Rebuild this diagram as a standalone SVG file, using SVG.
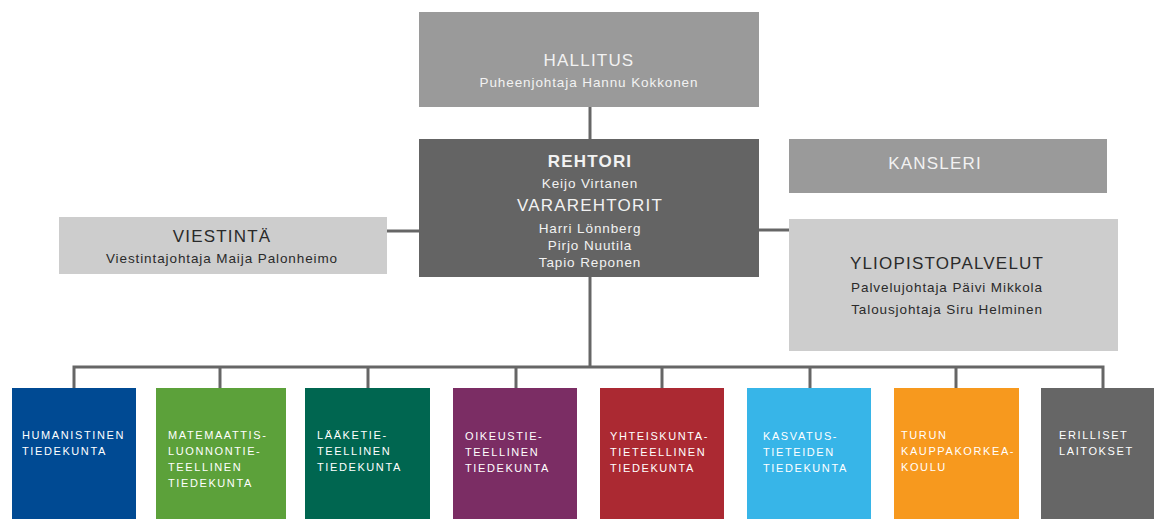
<svg xmlns="http://www.w3.org/2000/svg" width="1154" height="519" viewBox="0 0 1154 519">
<style>
text{font-family:"Liberation Sans",Arial,sans-serif}
.t{font-size:17px;letter-spacing:1.2px;text-anchor:middle}
.s{font-size:13.5px;letter-spacing:0.9px;text-anchor:middle}
.f{font-size:11px;letter-spacing:1.6px;fill:#fff}
.lt{fill:#f2f2f2}
.dk{fill:#2a2a2a}
.ln{stroke:#666;stroke-width:3;fill:none}
</style>
<rect width="1154" height="519" fill="#fff"/>
<g id="connectors">
<line class="ln" x1="590" y1="107" x2="590" y2="139"/>
<line class="ln" x1="590" y1="277" x2="590" y2="367"/>
<line class="ln" x1="387" y1="231" x2="419" y2="231"/>
<line class="ln" x1="759" y1="230" x2="789" y2="230"/>
<polyline class="ln" points="74,388 74,367 1103,367 1103,388"/>
<line class="ln" x1="220" y1="367" x2="220" y2="388"/>
<line class="ln" x1="368" y1="367" x2="368" y2="388"/>
<line class="ln" x1="516" y1="367" x2="516" y2="388"/>
<line class="ln" x1="662" y1="367" x2="662" y2="388"/>
<line class="ln" x1="810" y1="367" x2="810" y2="388"/>
<line class="ln" x1="956" y1="367" x2="956" y2="388"/>
</g>
<g id="hallitus">
<rect x="419" y="12" width="340" height="95" fill="#9a9a9a"/>
<text class="t lt" x="589" y="66">HALLITUS</text>
<text class="s lt" x="589" y="87">Puheenjohtaja Hannu Kokkonen</text>
</g>
<g id="rehtori">
<rect x="419" y="139" width="340" height="138" fill="#646464"/>
<text class="t lt" x="590" y="167" font-weight="bold">REHTORI</text>
<text class="s lt" x="590" y="188">Keijo Virtanen</text>
<text class="t lt" x="590" y="211">VARAREHTORIT</text>
<text class="s lt" x="590" y="233">Harri Lönnberg</text>
<text class="s lt" x="590" y="250">Pirjo Nuutila</text>
<text class="s lt" x="590" y="267">Tapio Reponen</text>
</g>
<g id="kansleri">
<rect x="789" y="139" width="318" height="54" fill="#9a9a9a"/>
<text class="t lt" x="935" y="169">KANSLERI</text>
</g>
<g id="viestinta">
<rect x="59" y="217" width="328" height="57" fill="#cdcdcd"/>
<text class="t dk" x="222" y="242">VIESTINTÄ</text>
<text class="s dk" x="222" y="263">Viestintajohtaja Maija Palonheimo</text>
</g>
<g id="yliopistopalvelut">
<rect x="789" y="219" width="329" height="132" fill="#cdcdcd"/>
<text class="t dk" x="947" y="269">YLIOPISTOPALVELUT</text>
<text class="s dk" x="947" y="292">Palvelujohtaja Päivi Mikkola</text>
<text class="s dk" x="947" y="314">Talousjohtaja Siru Helminen</text>
</g>
<g id="humanistinen">
<rect x="12" y="388" width="124" height="131" fill="#004a93"/>
<text class="f" x="22" y="439">HUMANISTINEN</text>
<text class="f" x="22" y="455">TIEDEKUNTA</text>
</g>
<g id="matemaattis">
<rect x="156" y="388" width="130" height="131" fill="#5ca13a"/>
<text class="f" x="168" y="439">MATEMAATTIS-</text>
<text class="f" x="168" y="455">LUONNONTIE-</text>
<text class="f" x="168" y="471">TEELLINEN</text>
<text class="f" x="168" y="487">TIEDEKUNTA</text>
</g>
<g id="laaketieteellinen">
<rect x="305" y="388" width="125" height="131" fill="#006650"/>
<text class="f" x="317" y="439">LÄÄKETIE-</text>
<text class="f" x="317" y="455">TEELLINEN</text>
<text class="f" x="317" y="471">TIEDEKUNTA</text>
</g>
<g id="oikeustieteellinen">
<rect x="453" y="388" width="124" height="131" fill="#7b2d64"/>
<text class="f" x="465" y="440">OIKEUSTIE-</text>
<text class="f" x="465" y="456">TEELLINEN</text>
<text class="f" x="465" y="472">TIEDEKUNTA</text>
</g>
<g id="yhteiskuntatieteellinen">
<rect x="600" y="388" width="124" height="131" fill="#ab2932"/>
<text class="f" x="610" y="440">YHTEISKUNTA-</text>
<text class="f" x="610" y="456">TIETEELLINEN</text>
<text class="f" x="610" y="472">TIEDEKUNTA</text>
</g>
<g id="kasvatustieteiden">
<rect x="747" y="388" width="124" height="131" fill="#37b5e8"/>
<text class="f" x="763" y="440">KASVATUS-</text>
<text class="f" x="763" y="456">TIETEIDEN</text>
<text class="f" x="763" y="472">TIEDEKUNTA</text>
</g>
<g id="kauppakorkeakoulu">
<rect x="894" y="388" width="125" height="131" fill="#f7991e"/>
<text class="f" x="901" y="439">TURUN</text>
<text class="f" x="901" y="455">KAUPPAKORKEA-</text>
<text class="f" x="901" y="471">KOULU</text>
</g>
<g id="erilliset">
<rect x="1041" y="388" width="113" height="131" fill="#666"/>
<text class="f" x="1059" y="439">ERILLISET</text>
<text class="f" x="1059" y="455">LAITOKSET</text>
</g>
</svg>
